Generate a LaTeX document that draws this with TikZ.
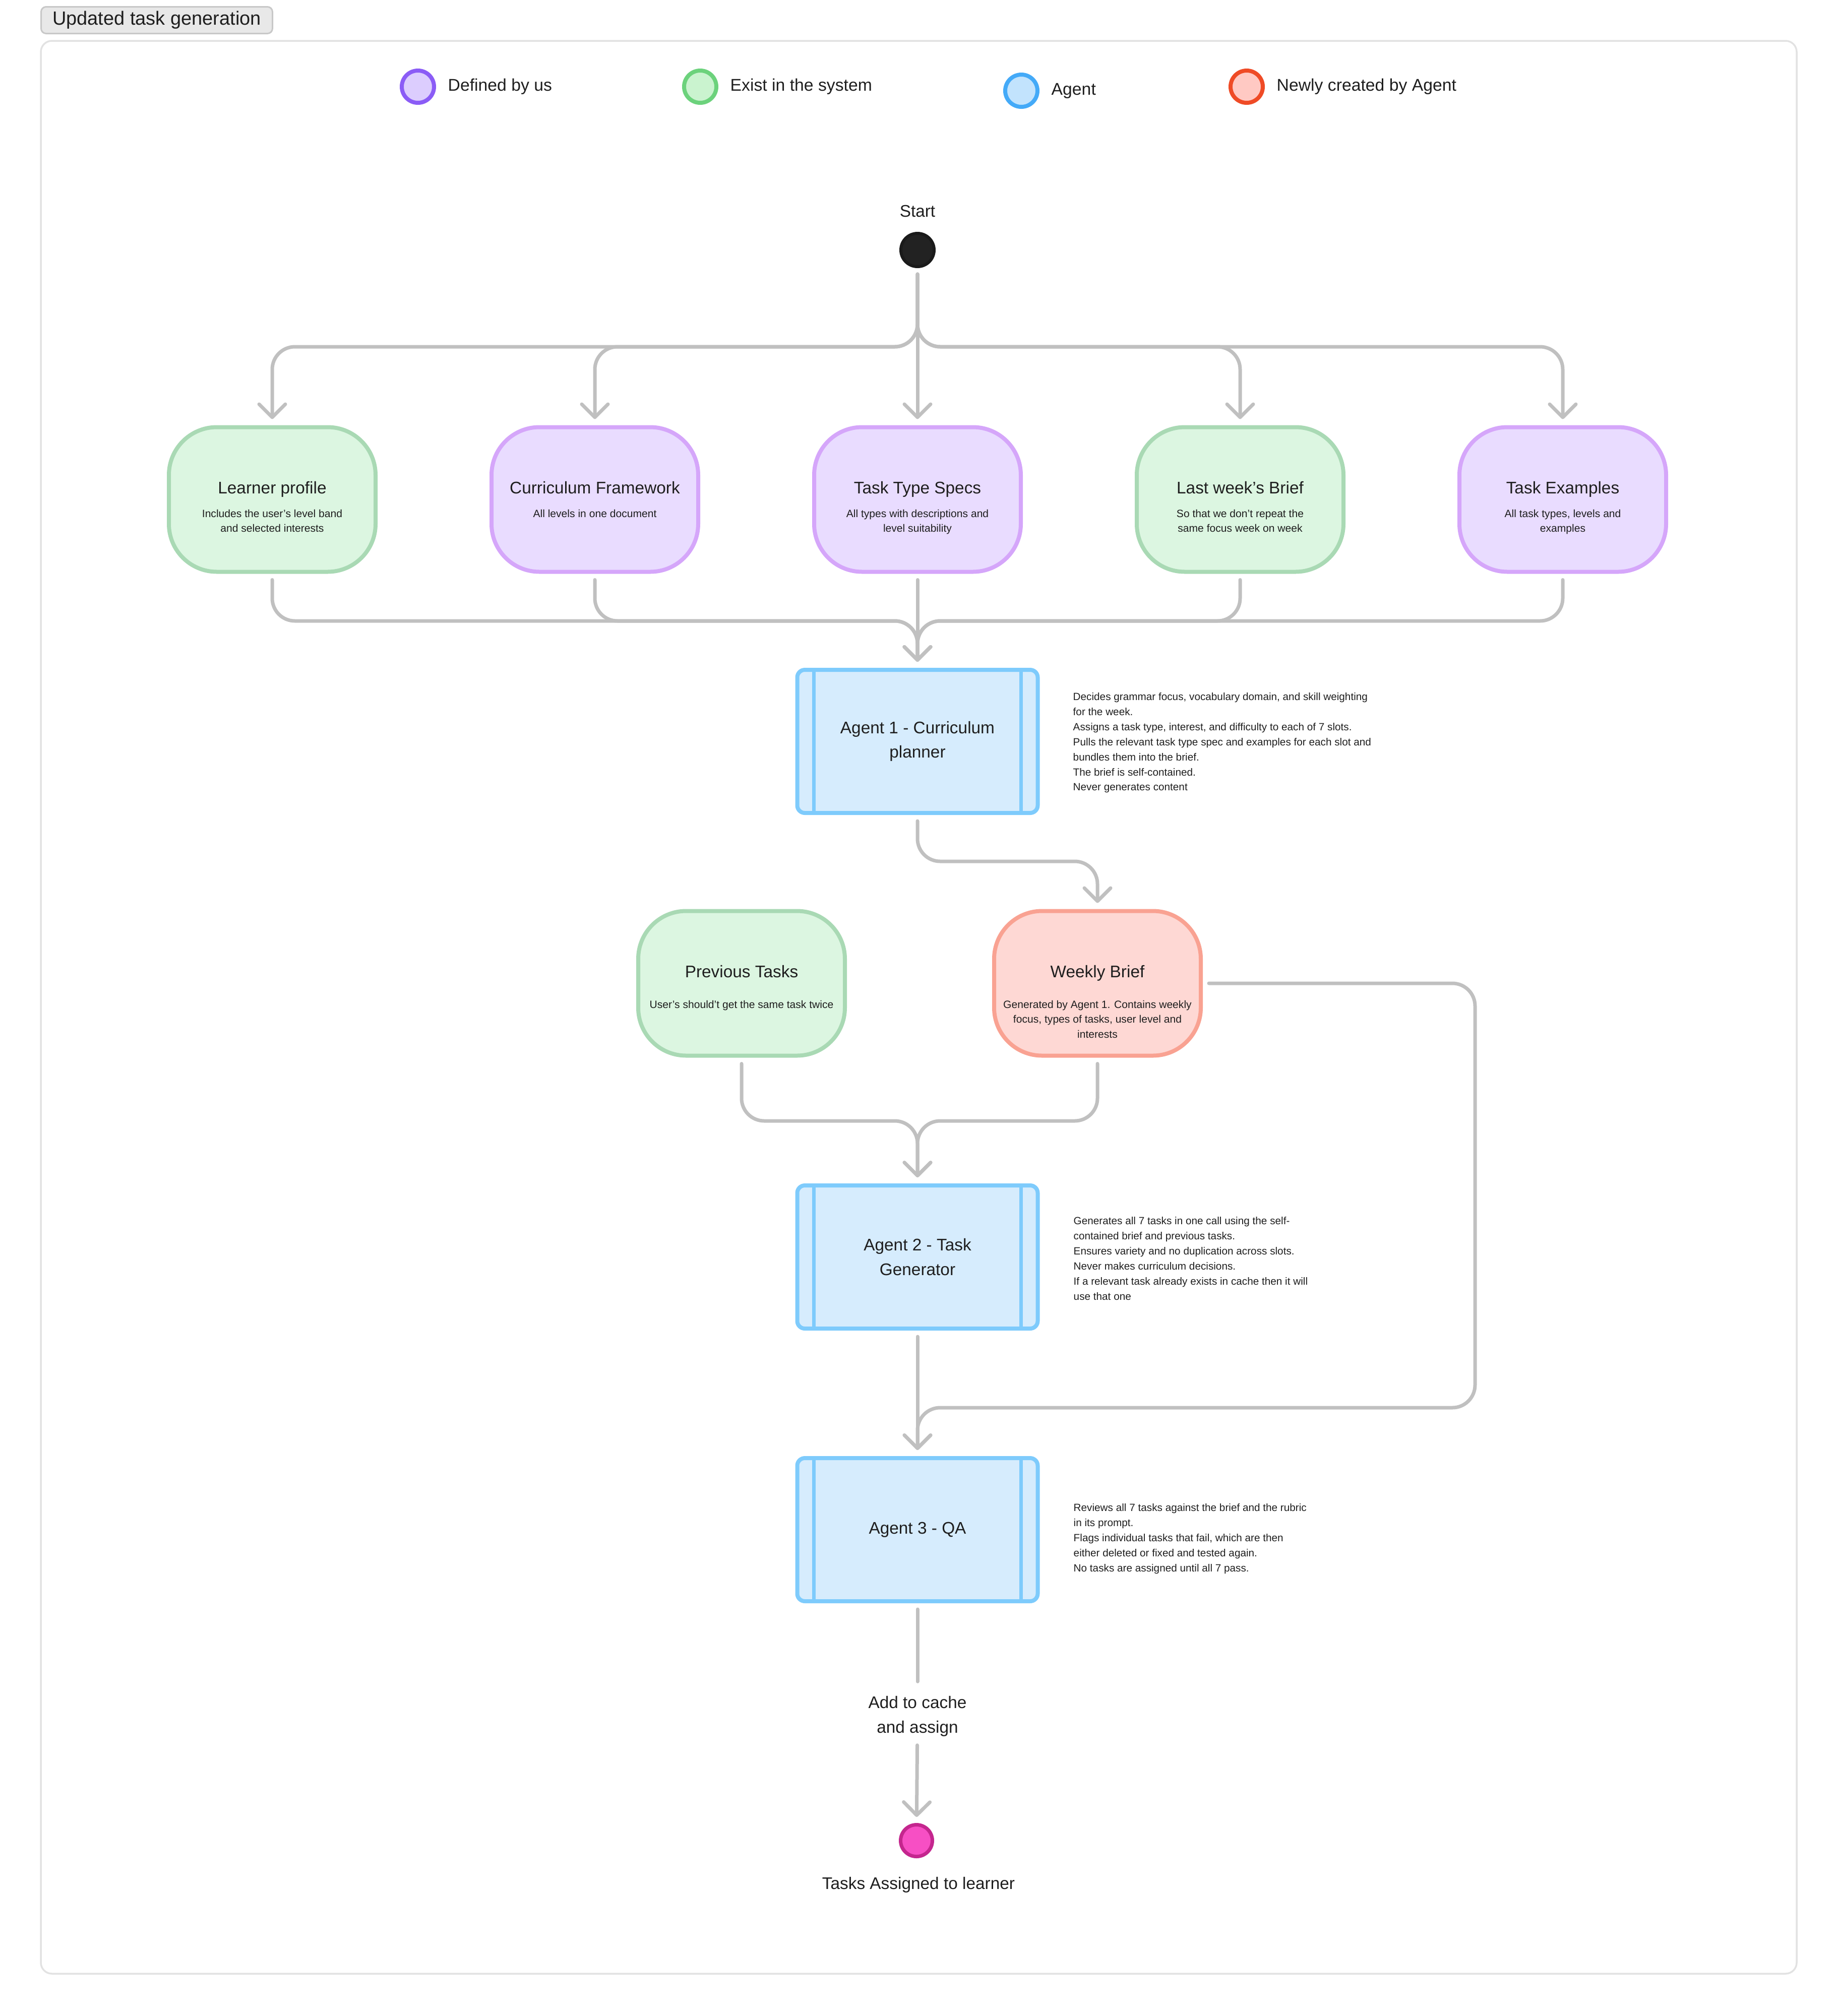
\documentclass[tikz,border=0pt]{standalone}
\usepackage{fontspec}
\setmainfont{Liberation Sans}
\usetikzlibrary{positioning, arrows.meta}

\definecolor{ink}{HTML}{1E1E1E}
\definecolor{linegray}{HTML}{C0C0C0}
\definecolor{framegray}{HTML}{E2E2E2}
\definecolor{tagfill}{HTML}{E8E8E8}
\definecolor{tagedge}{HTML}{C8C8C8}
\definecolor{greenedge}{HTML}{A9D9B4}
\definecolor{greenfill}{HTML}{DCF6E1}
\definecolor{purpleedge}{HTML}{D5A6FA}
\definecolor{purplefill}{HTML}{E9DCFF}
\definecolor{rededge}{HTML}{F9A292}
\definecolor{redfill}{HTML}{FED8D4}
\definecolor{agentedge}{HTML}{7ECBFC}
\definecolor{agentfill}{HTML}{D6ECFD}
\definecolor{lgpurpleedge}{HTML}{8B5CF6}
\definecolor{lgpurplefill}{HTML}{DCCDFE}
\definecolor{lggreenedge}{HTML}{6CD27C}
\definecolor{lggreenfill}{HTML}{CAF3CF}
\definecolor{lgblueedge}{HTML}{44AAF8}
\definecolor{lgbluefill}{HTML}{C2E3FD}
\definecolor{lgrededge}{HTML}{EF4B26}
\definecolor{lgredfill}{HTML}{FFC9C3}
\definecolor{startfill}{HTML}{222222}
\definecolor{startedge}{HTML}{1A1A1A}
\definecolor{endfill}{HTML}{F74FC4}
\definecolor{endedge}{HTML}{C4268E}

\begin{document}
\begin{tikzpicture}[
    every node/.style={text=ink, inner sep=0pt},
    tag/.style={draw=tagedge, fill=tagfill, line width=0.03cm, rounded corners=0.1cm, minimum width=4.59cm, minimum height=0.53cm, font=\fontsize{10.8}{13}\selectfont},
    legenddot/.style={circle, minimum size=0.64cm, line width=0.08cm},
    legendtext/.style={font=\fontsize{9.6}{12}\selectfont},
    pill/.style={rectangle, rounded corners=0.95cm, minimum width=4.10cm, minimum height=2.87cm, line width=0.08cm},
    greenbox/.style={pill, draw=greenedge, fill=greenfill},
    purplebox/.style={pill, draw=purpleedge, fill=purplefill},
    redbox/.style={pill, draw=rededge, fill=redfill},
    boxtitle/.style={anchor=base, font=\fontsize{9.5}{13.7}\selectfont},
    boxnote/.style={anchor=north, align=center, font=\fontsize{6}{8.5}\selectfont},
    agentbox/.style={rectangle, rounded corners=0.15cm, minimum width=4.77cm, minimum height=2.84cm, line width=0.08cm, draw=agentedge, fill=agentfill, align=center, font=\fontsize{9.5}{13.7}\selectfont,
        path picture={\draw[agentedge, line width=0.07cm]
            ([xshift=0.33cm]path picture bounding box.north west) -- ([xshift=0.33cm]path picture bounding box.south west)
            ([xshift=-0.33cm]path picture bounding box.north east) -- ([xshift=-0.33cm]path picture bounding box.south east);}},
    desc/.style={anchor=north west, align=left, font=\fontsize{5.9}{8.5}\selectfont},
    plain/.style={align=center, font=\fontsize{9.5}{13.9}\selectfont},
    startdot/.style={circle, minimum size=0.66cm, line width=0.06cm, draw=startedge, fill=startfill},
    enddot/.style={circle, minimum size=0.63cm, line width=0.07cm, draw=endedge, fill=endfill},
    link/.style={draw=linegray, line width=0.07cm, line cap=round, rounded corners=0.45cm, shorten <=0.12cm, shorten >=0.12cm},
    arrow/.style={link, -{Straight Barb[length=0.26cm, width=0.52cm, round]}}
]
\useasboundingbox (0,0) rectangle (36.48,-40);

% Frame and title
\draw[framegray, line width=0.035cm, rounded corners=0.22cm] (0.81,-0.81) rectangle (35.64,-39.16);
\node[tag] (title) at (3.11,-0.40) {Updated task generation};

% Legend
\foreach \nm/\x/\y/\ec/\fc/\txt in {lg-defined/8.29/-1.72/lgpurpleedge/lgpurplefill/Defined by us,
    lg-system/13.89/-1.72/lggreenedge/lggreenfill/Exist in the system,
    lg-agent/20.26/-1.80/lgblueedge/lgbluefill/Agent,
    lg-new/24.73/-1.72/lgrededge/lgredfill/Newly created by Agent} {
    \node[legenddot, draw=\ec, fill=\fc] (\nm) at (\x,\y) {};
    \node[legendtext, right=0.23cm of \nm] (\nm-text) {\txt};
}

% Start
\node[startdot] (start) at (18.20,-4.96) {};
\node[plain, above=0.28cm of start] (start-label) {Start};

% Inputs
\node[greenbox] (learner) at (5.40,-9.91) {};
\node[purplebox] (framework) at (11.80,-9.91) {};
\node[purplebox] (specs) at (18.20,-9.91) {};
\node[greenbox] (lastbrief) at (24.60,-9.91) {};
\node[purplebox] (examples) at (31.00,-9.91) {};

\node[boxtitle] (learner-title) at ([yshift=0.12cm]learner.center) {Learner profile};
\node[boxnote] (learner-note) at ([yshift=-0.19cm]learner.center) {Includes the user’s level band\\and selected interests};
\node[boxtitle] (framework-title) at ([yshift=0.12cm]framework.center) {Curriculum Framework};
\node[boxnote] (framework-note) at ([yshift=-0.19cm]framework.center) {All levels in one document};
\node[boxtitle] (specs-title) at ([yshift=0.12cm]specs.center) {Task Type Specs};
\node[boxnote] (specs-note) at ([yshift=-0.19cm]specs.center) {All types with descriptions and\\level suitability};
\node[boxtitle] (lastbrief-title) at ([yshift=0.12cm]lastbrief.center) {Last week’s Brief};
\node[boxnote] (lastbrief-note) at ([yshift=-0.19cm]lastbrief.center) {So that we don’t repeat the\\same focus week on week};
\node[boxtitle] (examples-title) at ([yshift=0.12cm]examples.center) {Task Examples};
\node[boxnote] (examples-note) at ([yshift=-0.19cm]examples.center) {All task types, levels and\\examples};

% Agents
\node[agentbox] (agent1) at (18.20,-14.71) {Agent 1 - Curriculum\\planner};
\node[agentbox] (agent2) at (18.20,-24.94) {Agent 2 - Task\\Generator};
\node[agentbox] (agent3) at (18.20,-30.35) {Agent 3 - QA};

\node[desc] (agent1-desc) at (21.28,-13.74) {Decides grammar focus, vocabulary domain, and skill weighting\\for the week.\\Assigns a task type, interest, and difficulty to each of 7 slots.\\Pulls the relevant task type spec and examples for each slot and\\bundles them into the brief.\\The brief is self-contained.\\Never generates content};
\node[desc] (agent2-desc) at (21.29,-24.14) {Generates all 7 tasks in one call using the self-\\contained brief and previous tasks.\\Ensures variety and no duplication across slots.\\Never makes curriculum decisions.\\If a relevant task already exists in cache then it will\\use that one};
\node[desc] (agent3-desc) at (21.29,-29.83) {Reviews all 7 tasks against the brief and the rubric\\in its prompt.\\Flags individual tasks that fail, which are then\\either deleted or fixed and tested again.\\No tasks are assigned until all 7 pass.};

% Previous tasks and brief
\node[greenbox] (prevtasks) at (14.71,-19.51) {};
\node[redbox] (weekly) at (21.77,-19.51) {};
\node[boxtitle] (prevtasks-title) at ([yshift=0.12cm]prevtasks.center) {Previous Tasks};
\node[boxnote] (prevtasks-note) at ([yshift=-0.33cm]prevtasks.center) {User’s should’t get the same task twice};
\node[boxtitle] (weekly-title) at ([yshift=0.12cm]weekly.center) {Weekly Brief};
\node[boxnote] (weekly-note) at ([yshift=-0.33cm]weekly.center) {Generated by Agent 1. Contains weekly\\focus, types of tasks, user level and\\interests};

% End
\node[plain] (cache) at (18.20,-34.05) {Add to cache\\and assign};
\node[enddot] (finish) at (18.18,-36.52) {};
\node[plain, anchor=base] (finish-label) at (18.22,-37.48) {Tasks Assigned to learner};

% Connections
\coordinate (fan) at (18.20,-6.88);
\coordinate (gather) at (18.20,-12.32);
\coordinate (tobrief) at (21.77,-17.09);
\coordinate (gather2) at (18.20,-22.24);
\coordinate (loopcorner) at (29.26,-27.93);
\coordinate (qatop) at (18.20,-27.93);

\foreach \b in {learner, framework, lastbrief, examples} {
    \draw[arrow] (start) -- (fan) -| (\b);
    \draw[arrow] (\b) |- (gather) -- (agent1);
}
\draw[arrow] (start) -- (specs);
\draw[arrow] (specs) -- (agent1);
\draw[arrow] (agent1) |- (tobrief) -- (weekly);
\foreach \b in {prevtasks, weekly}
    \draw[arrow] (\b) |- (gather2) -- (agent2);
\draw[arrow] (weekly) -| (loopcorner) -- (qatop) -- (agent3);
\draw[arrow] (agent2) -- (agent3);
\draw[link, shorten >=0.28cm] (agent3) -- (cache);
\draw[arrow, shorten <=0.17cm] (cache) -- (finish);

\end{tikzpicture}
\end{document}
